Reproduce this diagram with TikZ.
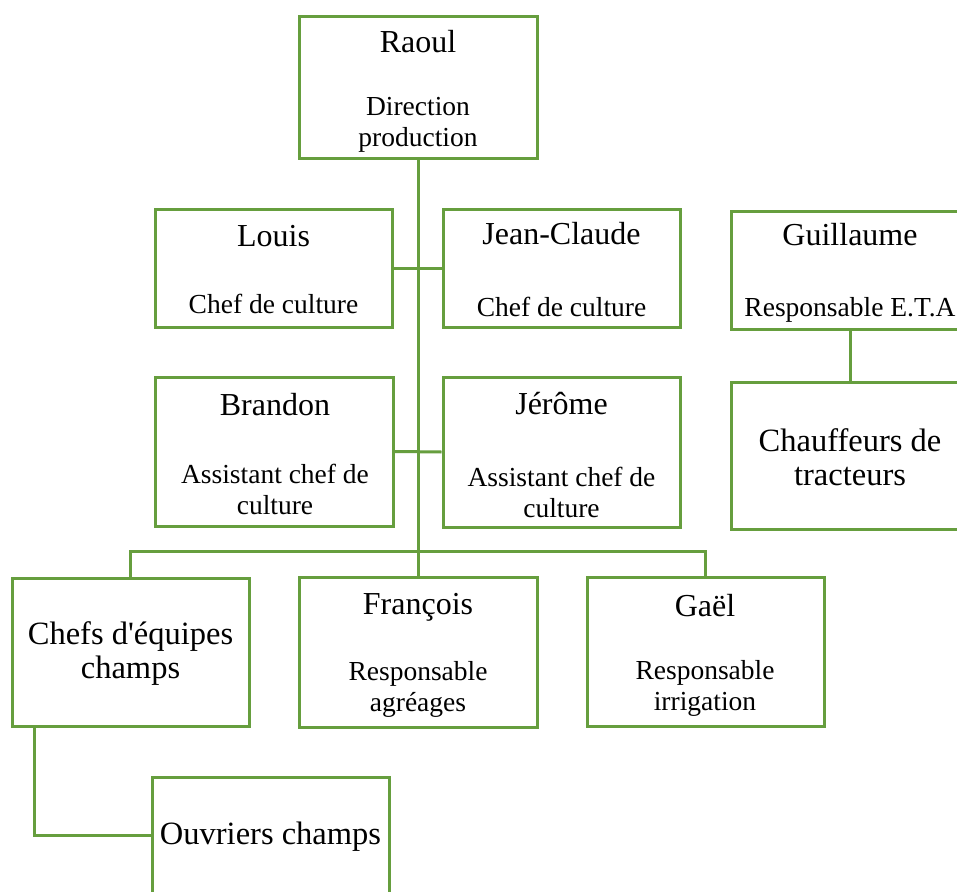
\documentclass[tikz,border=0pt]{standalone}
\usepackage{fontspec}
\setmainfont{Liberation Serif}
\definecolor{orggreen}{RGB}{102,158,62}
\tikzset{
  orgbox/.style={draw=orggreen, line width=3pt, fill=white, rectangle, inner sep=0pt},
  link/.style={draw=orggreen, line width=3pt},
  namefont/.style={font=\fontsize{32}{34}\selectfont, inner sep=0pt, anchor=center, align=center},
  rolefont/.style={font=\fontsize{27.5}{31}\selectfont, inner sep=0pt, anchor=center, align=center},
  bigfont/.style={font=\fontsize{32.5}{34}\selectfont, inner sep=0pt, anchor=center, align=center},
}
\begin{document}
\begin{tikzpicture}[x=1pt,y=-1pt]
\path[use as bounding box] (0,0) rectangle (957,891);
\clip (0,0) rectangle (957,891);
\fill[white] (0,0) rectangle (957,891);
\node[orgbox, minimum width=238pt, minimum height=141pt] (raoul) at (418,87.5) {};
\node[orgbox, minimum width=237pt, minimum height=118pt] (louis) at (273.5,268) {};
\node[orgbox, minimum width=237pt, minimum height=118pt] (jc) at (561.5,268) {};
\node[orgbox, minimum width=238pt, minimum height=149pt] (brandon) at (274,451.5) {};
\node[orgbox, minimum width=237pt, minimum height=150pt] (jerome) at (561.5,452) {};
\node[orgbox, minimum width=237pt, minimum height=148pt] (chefs) at (130.5,652) {};
\node[orgbox, minimum width=238pt, minimum height=150pt] (francois) at (418,652) {};
\node[orgbox, minimum width=237pt, minimum height=149pt] (gael) at (705.5,651.5) {};
\node[orgbox, minimum width=237pt, minimum height=117pt] (ouvriers) at (270.5,835.5) {};
\node[orgbox, minimum width=238pt, minimum height=118pt] (guillaume) at (850,270) {};
\node[orgbox, minimum width=238pt, minimum height=147pt] (chauffeurs) at (850,455.5) {};

\draw[link] (raoul.south) -- (francois.north);
\draw[link] (louis.east) -- (jc.west);
\draw[link] (brandon.east) -- (jerome.west);
\draw[link] (chefs.north) -- ++(0,-25) -| (gael.north);
\coordinate (drop) at ([xshift=24pt]chefs.south west);
\draw[link] (drop) |- (ouvriers.west);
\draw[link] (guillaume.south) -- (chauffeurs.north);

\node[namefont] (t-raoul) at (418,42) {Raoul};
\node[rolefont] (r-raoul) at (418,125) {Direction\\production};
\node[namefont] (t-louis) at (273.5,236) {Louis};
\node[rolefont] (r-louis) at (273.5,304) {Chef de culture};
\node[namefont] (t-jc) at (561.5,234) {Jean-Claude};
\node[rolefont] (r-jc) at (561.5,307) {Chef de culture};
\node[namefont] (t-brandon) at (275,405) {Brandon};
\node[rolefont] (r-brandon) at (275,489) {Assistant chef de\\culture};
\node[namefont] (t-jerome) at (561.5,404) {Jérôme};
\node[rolefont] (r-jerome) at (561.5,492) {Assistant chef de\\culture};
\node[namefont] (t-francois) at (418,607) {François};
\node[rolefont] (r-francois) at (418,689) {Responsable\\agréages};
\node[namefont] (t-gael) at (705,606) {Gaël};
\node[rolefont] (r-gael) at (705,688) {Responsable\\irrigation};
\node[namefont] (t-guillaume) at (850,235) {Guillaume};
\node[rolefont] (r-guillaume) at (850,310) {Responsable E.T.A};
\node[bigfont] (t-chefs) at (130.5,654) {Chefs d\textquotesingle équipes\\champs};
\node[bigfont] (t-chauffeurs) at (850,457) {Chauffeurs de\\tracteurs};
\node[bigfont] (t-ouvriers) at (270.5,837) {Ouvriers champs};
\end{tikzpicture}
\end{document}
